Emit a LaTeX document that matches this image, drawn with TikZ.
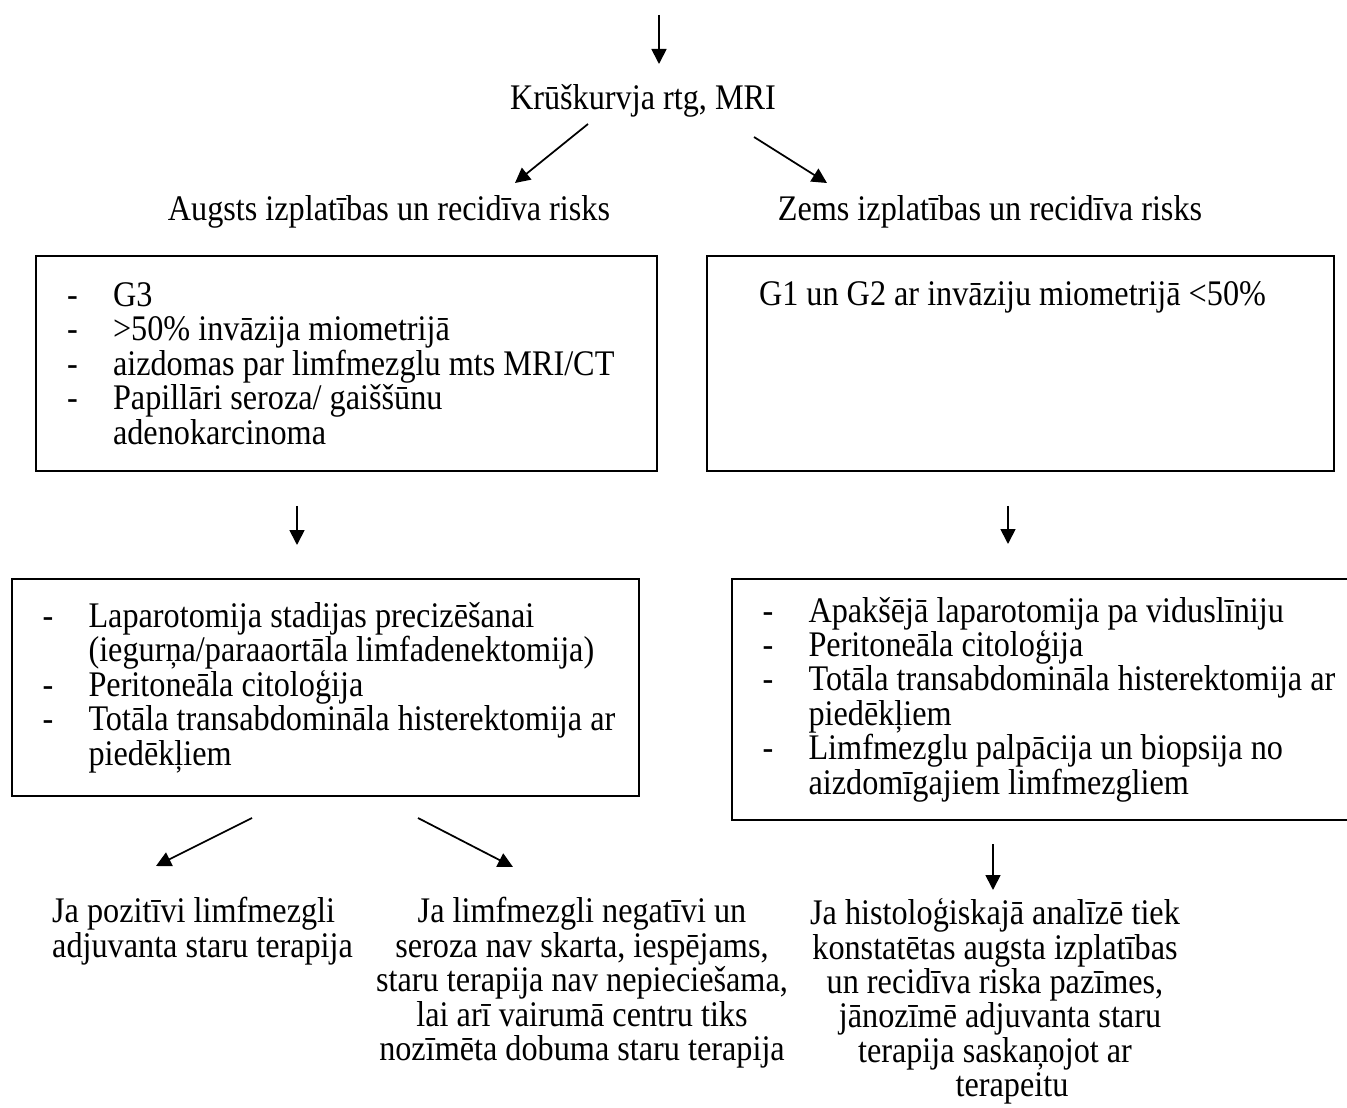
\documentclass[tikz,border=0pt]{standalone}
\usepackage{fontspec}
\setmainfont{Liberation Serif}[FakeStretch=0.895]
\usetikzlibrary{arrows.meta, positioning, calc}

\newcommand{\itm}[1]{\mbox{\spaceskip=0pt\makebox[0.92cm][l]{-}#1}}
\newcommand{\cnt}[1]{\mbox{\spaceskip=0pt\hspace*{0.92cm}#1}}
\setlength{\lineskiplimit}{-100pt}

\begin{document}
\begin{tikzpicture}[
    x=0.02cm, y=-0.02cm,
    every node/.style={font=\fontsize{20.5}{19.6}\selectfont},
    box/.style={rectangle, draw, line width=0.04cm},
    listbox/.style={box, align=left, inner xsep=0.62cm},
    arr/.style={-{Triangle[length=0.3cm, width=0.3cm]}, line width=0.035cm}
]
\useasboundingbox (0,0) rectangle (1347,1108);

% Start
\coordinate (in) at (659,15);
\node (chest) at (643,101) {Krūškurvja rtg, MRI};

% Risk groups
\node (highrisk) at (389,212) {Augsts izplatības un recidīva risks};
\node (lowrisk) at (990,212) {Zems izplatības un recidīva risks};

% Risk criteria
\node[listbox, text width=11.18cm, minimum height=4.3cm] (highbox) at (346.5,363.5)
    {\itm{G3}\\ \itm{>50\% invāzija miometrijā}\\ \itm{aizdomas par limfmezglu mts MRI/CT}\\
     \itm{Papillāri seroza/ gaiššūnu}\\ \cnt{adenokarcinoma}};
\node[box, minimum width=12.54cm, minimum height=4.3cm] (lowbox) at (1020.5,363.5) {};
\node (lowtxt) at ($(lowbox.north)+(-8,42)$) {G1 un G2 ar invāziju miometrijā <50\%};

% Surgery
\node[listbox, text width=11.32cm, minimum height=4.34cm] (surghigh) at (325.5,687.5)
    {\itm{Laparotomija stadijas precizēšanai}\\ \cnt{(iegurņa/paraaortāla limfadenektomija)}\\
     \itm{Peritoneāla citoloģija}\\ \itm{Totāla transabdomināla histerektomija ar}\\ \cnt{piedēkļiem}};
\node[listbox, text width=11.32cm, minimum height=4.82cm] (surglow) at (1045.5,699.5)
    {\itm{Apakšējā laparotomija pa viduslīniju}\\ \itm{Peritoneāla citoloģija}\\
     \itm{Totāla transabdomināla histerektomija ar}\\ \cnt{piedēkļiem}\\
     \itm{Limfmezglu palpācija un biopsija no}\\ \cnt{aizdomīgajiem limfmezgliem}};

% Outcomes
\node[align=left, anchor=west] (posnodes) at (46,931) {Ja pozitīvi limfmezgli\\adjuvanta staru terapija};
\node[align=center] (negnodes) at (582,983) {Ja limfmezgli negatīvi un\\seroza nav skarta, iespējams,\\
    staru terapija nav nepieciešama,\\lai arī vairumā centru tiks\\nozīmēta dobuma staru terapija};
\node[align=center] (histo) at (995,1001.5) {Ja histoloģiskajā analīzē tiek\\konstatētas augsta izplatības\\
    un recidīva riska pazīmes,\hspace*{0.78cm}\\\hspace*{0.2cm}jānozīmē adjuvanta staru\\
    terapija saskaņojot ar\hspace*{1.04cm}\\\hspace*{0.68cm}terapeitu};

% Arrow ends
\coordinate (chestin) at (659,64);
\coordinate (hl0) at (588,124);  \coordinate (hl1) at (515,183);
\coordinate (hr0) at (754,137);  \coordinate (hr1) at (827,183);
\coordinate (bl0) at (297,506);  \coordinate (bl1) at (297,545);
\coordinate (br0) at (1008,506); \coordinate (br1) at (1008,544);
\coordinate (sl0) at (252,818);  \coordinate (sl1) at (156,866);
\coordinate (sr0) at (418,818);  \coordinate (sr1) at (513,867);
\coordinate (lo0) at (993,844);  \coordinate (lo1) at (993,890);

% Arrows
\draw[arr] (in) -- (chestin);
\draw[arr] (hl0) -- (hl1);
\draw[arr] (hr0) -- (hr1);
\draw[arr] (bl0) -- (bl1);
\draw[arr] (br0) -- (br1);
\draw[arr] (sl0) -- (sl1);
\draw[arr] (sr0) -- (sr1);
\draw[arr] (lo0) -- (lo1);

\end{tikzpicture}
\end{document}
